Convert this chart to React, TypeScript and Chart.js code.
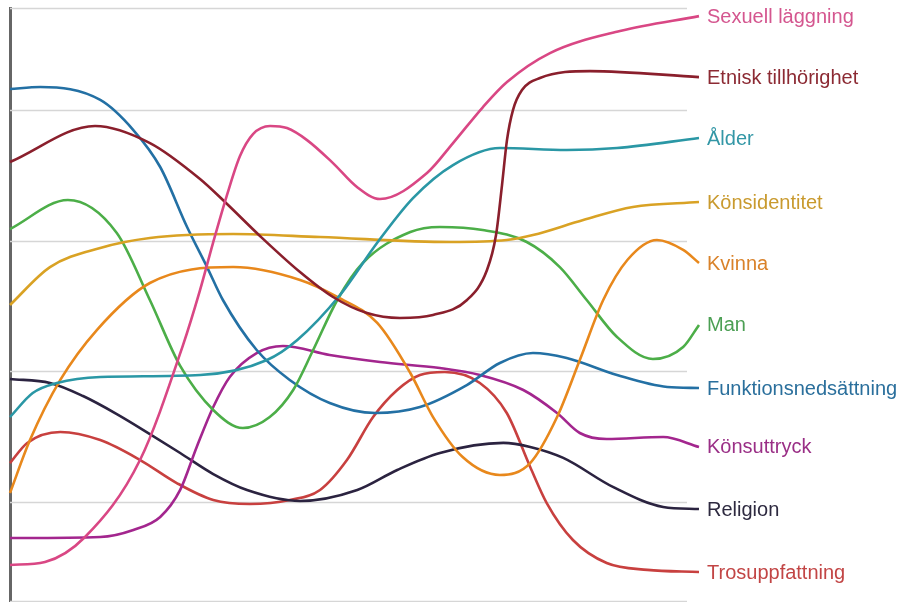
import React, { useEffect, useRef } from "react";
import { Chart, registerables } from "chart.js";

Chart.register(...registerables);

// Series names (label shown at the right end of each line)
const seriesNames = [
  "Sexuell läggning",
  "Etnisk tillhörighet",
  "Ålder",
  "Könsidentitet",
  "Kvinna",
  "Man",
  "Funktionsnedsättning",
  "Könsuttryck",
  "Religion",
  "Trosuppfattning",
];

const lineColors = ["#d94784", "#8a1f2c", "#2a97a5", "#d9a224", "#e8881c", "#4cae48", "#2370a4", "#a3268e", "#2b2340", "#c8403f"];
const labelColors = ["#d4568f", "#8c2a33", "#3397a6", "#c99a2e", "#d9822a", "#4c9f54", "#2a6f9c", "#9a2f86", "#2e2a40", "#c24545"];

// x positions (0–100) and values for each series
const sexuellX = [0, 5.08, 10.89, 18.87, 25.11, 27.58, 29.46, 31.49, 33.38, 35.27, 37.74, 40.2, 43.11, 46.88, 50.36, 53.7, 60.52, 64.3, 68.65, 72.13, 78.37, 88.53, 100];
const sexuellY = [5.18, 5.41, 7.32, 13.21, 22.01, 26.22, 29.82, 33.49, 36.48, 38.16, 38.78, 38.62, 37.7, 35.94, 34.11, 33.19, 35.18, 37.47, 40.23, 42.14, 44.36, 46.05, 47.19];

const etniskX = [0, 12.34, 20.32, 27.58, 31.2, 36.28, 42.09, 46.88, 51.81, 56.6, 61.39, 66.33, 69.23, 70.54, 71.41, 72.13, 73.0, 74.31, 76.92, 84.18, 100];
const etniskY = [36.02, 38.78, 37.47, 34.72, 32.96, 30.36, 27.6, 25.69, 24.46, 24.08, 24.31, 25.46, 27.75, 30.43, 34.26, 37.7, 40.0, 41.53, 42.45, 42.98, 42.52];

const alderX = [0, 3.3, 6.8, 13.1, 27.6, 37.3, 41.7, 47.9, 53.27, 58.49, 64.3, 71.1, 80.8, 88.1, 100];
const alderY = [16.5, 18.34, 19.11, 19.57, 19.72, 20.87, 22.4, 25.84, 29.82, 33.26, 35.79, 37.09, 36.94, 37.09, 37.86];

const konsidX = [0, 5.8, 13.1, 20.3, 32.4, 45.0, 63.9, 72.1, 75.9, 83.2, 90.4, 100];
const konsidY = [25.08, 27.98, 29.44, 30.2, 30.51, 30.28, 29.9, 30.05, 30.43, 31.58, 32.58, 32.96];

const kvinnaX = [0, 2.9, 7.3, 12.6, 20.3, 32.4, 42.1, 47.5, 53.3, 58.1, 61.4, 65.7, 71.1, 75.5, 79.4, 82.7, 86.1, 89.6, 93.9, 97.7, 100];
const kvinnaY = [10.69, 14.74, 19.34, 23.16, 26.76, 27.98, 26.99, 25.69, 23.7, 19.87, 16.5, 13.44, 12.07, 12.98, 16.5, 20.87, 25.46, 28.52, 30.05, 29.29, 28.29];

const manX = [0, 8.4, 15.5, 20.3, 24.7, 29.5, 33.8, 37.7, 41.1, 44.0, 47.5, 51.2, 58.1, 62.4, 68.6, 75.0, 79.8, 83.7, 88.1, 93.3, 97.7, 100];
const manY = [30.89, 33.11, 30.59, 25.46, 20.41, 17.04, 15.66, 16.5, 18.57, 21.63, 25.46, 28.29, 30.66, 31.05, 30.82, 29.9, 27.98, 25.46, 22.63, 20.94, 21.86, 23.55];

const funkX = [0, 4.4, 13.1, 17.9, 21.8, 25.7, 28.6, 30.9, 35.8, 40.6, 46.4, 53.0, 59.5, 66.3, 71.1, 75.9, 80.8, 88.1, 95.4, 100];
const funkY = [41.61, 41.76, 40.77, 38.47, 35.64, 31.05, 27.98, 25.46, 21.63, 19.34, 17.58, 16.81, 17.27, 18.95, 20.64, 21.4, 21.02, 19.72, 18.8, 18.72];

const uttryckX = [0, 13.1, 17.9, 21.8, 24.7, 27.1, 29.5, 31.9, 35.8, 39.62, 46.4, 53.7, 62.4, 68.2, 74.5, 79.4, 82.7, 86.6, 94.8, 100];
const uttryckY = [7.24, 7.32, 7.86, 8.85, 10.92, 14.21, 17.27, 19.57, 21.4, 21.94, 21.25, 20.71, 20.25, 19.72, 18.57, 16.81, 15.28, 14.82, 14.97, 14.21];

const religionX = [0, 5.81, 10.6, 15.5, 20.3, 24.7, 29.5, 34.4, 42.1, 50.4, 56.2, 62.4, 71.6, 75.5, 80.3, 87.5, 94.8, 100];
const religionY = [19.41, 19.11, 18.11, 16.73, 15.2, 13.75, 12.14, 10.92, 10.08, 10.92, 12.45, 13.75, 14.52, 14.21, 13.37, 11.15, 9.62, 9.46];

const trosX = [0, 2.5, 7.3, 13.1, 18.9, 24.2, 29.5, 34.8, 40.6, 45.0, 48.9, 52.7, 56.2, 59.5, 63.1, 68.2, 72.1, 75.5, 77.9, 81.7, 86.6, 92.5, 100];
const trosY = [12.98, 14.52, 15.36, 14.74, 13.21, 11.45, 10.15, 9.85, 10.15, 10.92, 13.21, 16.5, 18.57, 19.72, 19.95, 19.11, 16.81, 12.68, 9.92, 7.09, 5.33, 4.8, 4.64];

const seriesX = [sexuellX, etniskX, alderX, konsidX, kvinnaX, manX, funkX, uttryckX, religionX, trosX];
const seriesY = [sexuellY, etniskY, alderY, konsidY, kvinnaY, manY, funkY, uttryckY, religionY, trosY];

const Y_MIN = 2.42;
const Y_MAX = 47.81;

const shortGrid = {
  id: "shortGrid",
  beforeDatasetsDraw(chart: any) {
    const { ctx, chartArea, scales } = chart;
    const ys = scales.y;
    ctx.save();
    ctx.strokeStyle = "#d6d6d6";
    ctx.lineWidth = 1.5;
    ys.ticks.forEach((t: any) => {
      const py = Math.round(ys.getPixelForValue(t.value)) + 0.5;
      ctx.beginPath();
      ctx.moveTo(chartArea.left, py);
      ctx.lineTo(chartArea.right - 12, py);
      ctx.stroke();
    });
    ctx.restore();
  },
};

const endLabels = {
  id: "endLabels",
  afterDatasetsDraw(chart: any) {
    const ctx = chart.ctx;
    ctx.save();
    ctx.font = '20px "Liberation Sans", Arial, sans-serif';
    ctx.textBaseline = "middle";
    ctx.textAlign = "left";
    chart.data.datasets.forEach((ds: any, i: number) => {
      const meta = chart.getDatasetMeta(i);
      const pts = meta.data;
      const last = pts[pts.length - 1];
      if (!last) return;
      ctx.fillStyle = labelColors[i];
      ctx.fillText(ds.label, last.x + 8, last.y + 1);
    });
    ctx.restore();
  },
};

export default function App() {
  const ref = useRef<HTMLCanvasElement | null>(null);
  useEffect(() => {
    if (!ref.current) return;
    const chart = new Chart(ref.current, {
      type: "line",
      data: {
        datasets: seriesNames.map((name, i) => ({
          label: name,
          data: seriesX[i].map((x, j) => ({ x, y: seriesY[i][j] })),
          borderColor: lineColors[i],
          backgroundColor: lineColors[i],
          borderWidth: 2.6,
          pointRadius: 0,
          pointHoverRadius: 0,
          cubicInterpolationMode: "monotone" as const,
          fill: false,
          clip: false as any,
        })),
      },
      options: {
        responsive: false,
        animation: false,
        layout: { padding: { left: 10, right: 202, top: 8, bottom: 1 } },
        plugins: { legend: { display: false }, tooltip: { enabled: false } },
        scales: {
          x: { type: "linear", min: 0, max: 100, display: false },
          y: {
            type: "linear",
            min: Y_MIN,
            max: Y_MAX,
            ticks: { display: false, stepSize: 10 },
            grid: { display: false, drawTicks: false },
            border: { display: true, color: "#666666", width: 3 },
          },
        },
      },
      plugins: [shortGrid, endLabels],
    });
    return () => chart.destroy();
  }, []);
  return (
    <div style={{ position: "fixed", left: 0, top: 0, width: 901, height: 602, background: "#ffffff" }}>
      <canvas ref={ref} width={901} height={602} style={{ width: 901, height: 602 }} />
    </div>
  );
}
